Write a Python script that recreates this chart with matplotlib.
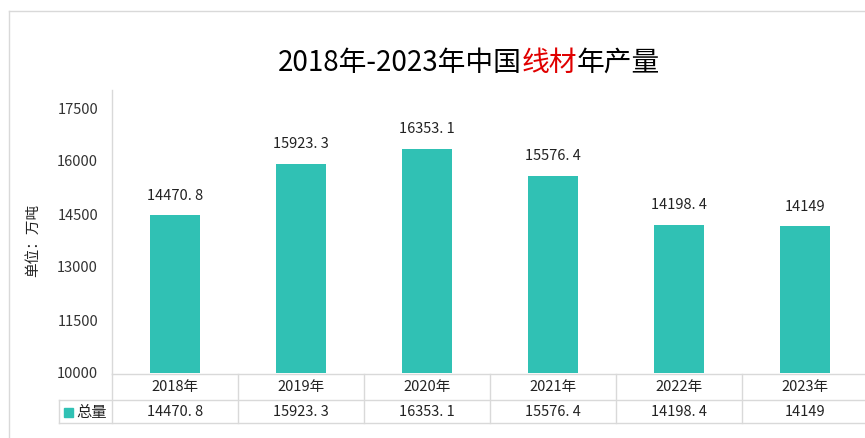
import matplotlib
matplotlib.use("Agg")
import matplotlib.pyplot as plt
from matplotlib.lines import Line2D
from matplotlib.patches import Rectangle

plt.rcParams['font.family'] = ['Noto Sans CJK SC', 'DejaVu Sans']

years = ["2018年", "2019年", "2020年", "2021年", "2022年", "2023年"]
output = [14470.8, 15923.3, 16353.1, 15576.4, 14198.4, 14149]
labels = ["14470. 8", "15923. 3", "16353. 1", "15576. 4", "14198. 4", "14149"]
yticks = [10000, 11500, 13000, 14500, 16000, 17500]
title_parts = [("2018年-2023年中国", "#000000"), ("线材", "#E00000"), ("年产量", "#000000")]
unit_label = "单位：万吨"

W, H = 865, 438
BAR = "#30C1B4"
GRID = "#D9D9D9"


def fx(px):
    return px / W


def fy(py):
    return 1 - py / H


def main() -> None:
    fig = plt.figure(figsize=(W / 100, H / 100), dpi=100)
    fig.patch.set_facecolor("white")

    # outer chart frame (only top and left edges show)
    fig.add_artist(Line2D([fx(9), fx(W)], [fy(11), fy(11)],
                          transform=fig.transFigure, color=GRID, linewidth=1))
    fig.add_artist(Line2D([fx(9), fx(9)], [fy(11), fy(H)],
                          transform=fig.transFigure, color=GRID, linewidth=1))

    # plot area: 6 columns of 126 px starting at x=112
    left, right = 112, 868
    ax = fig.add_axes([fx(left), fy(373), fx(right - left), fy(108) - fy(373)])
    ax.patch.set_alpha(0)
    x = range(len(years))
    ax.bar(x, [v - 10000 for v in output], bottom=10000, width=0.40, color=BAR)
    ax.set_xlim(-0.5, len(years) - 0.5)
    ax.set_ylim(10000, 17500)
    ax.set_yticks(yticks)
    ax.set_yticklabels([str(t) for t in yticks], fontsize=10.5, color="#333333")
    ax.tick_params(axis="y", length=0, pad=10)
    ax.set_xticks([])
    for s in ["top", "right", "bottom", "left"]:
        ax.spines[s].set_visible(False)

    for i, (v, lab) in enumerate(zip(output, labels)):
        ax.annotate(lab, (i, v), xytext=(0, 9), textcoords="offset points",
                    ha="center", va="bottom", fontsize=10.5, color="#222222")

    fig.text(fx(33), fy(240), unit_label, rotation=90, ha="center", va="center",
             fontsize=10.5, color="#222222")

    # axis line on the left, runs up past the top tick
    fig.add_artist(Line2D([fx(112), fx(112)], [fy(90), fy(374)],
                          transform=fig.transFigure, color=GRID, linewidth=1))

    # data table under the plot
    col_w = 126
    for yy in [374, 400, 423]:
        x0 = 112 if yy == 374 else 59
        fig.add_artist(Line2D([fx(x0), fx(W)], [fy(yy), fy(yy)],
                              transform=fig.transFigure, color=GRID, linewidth=1))
    fig.add_artist(Line2D([fx(59), fx(59)], [fy(400), fy(423)],
                          transform=fig.transFigure, color=GRID, linewidth=1))
    for i in range(len(years)):
        xx = left + i * col_w
        fig.add_artist(Line2D([fx(xx), fx(xx)], [fy(374), fy(423)],
                              transform=fig.transFigure, color=GRID, linewidth=1))
    for i, (yr, lab) in enumerate(zip(years, labels)):
        cx = left + col_w * (i + 0.5)
        fig.text(fx(cx), fy(387), yr, ha="center", va="center", fontsize=10.5, color="#222222")
        fig.text(fx(cx), fy(412), lab, ha="center", va="center", fontsize=10.5, color="#222222")
    fig.add_artist(Rectangle((fx(64), fy(417)), fx(9), fy(408) - fy(417),
                             transform=fig.transFigure, color=BAR))
    fig.text(fx(76), fy(412), "总量", ha="left", va="center", fontsize=11, color="#222222")

    # title with the red part, placed piece by piece
    renderer = fig.canvas.get_renderer()
    pieces = []
    for txt, col in title_parts:
        t = fig.text(0, fy(63), txt, ha="left", va="center", fontsize=20,
                     fontweight="medium", color=col)
        pieces.append(t)
    widths = [p.get_window_extent(renderer).width for p in pieces]
    xpos = 469 - sum(widths) / 2
    for p, w in zip(pieces, widths):
        p.set_x(fx(xpos))
        xpos += w

    fig.savefig("out.png", dpi=100)


if __name__ == "__main__":
    main()
